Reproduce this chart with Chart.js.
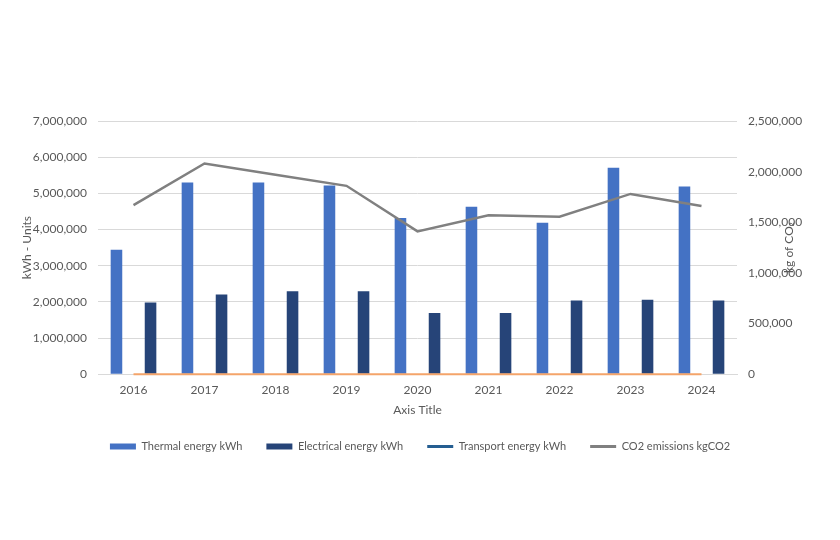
<!DOCTYPE html>
<html>
<head>
<meta charset="utf-8">
<script src="https://cdn.jsdelivr.net/npm/chart.js@4/dist/chart.umd.min.js"></script>
<style>
  html, body { margin: 0; padding: 0; background: #fff; }
  #wrap { width: 840px; height: 540px; }
</style>
</head>
<body>
<div id="wrap"><canvas id="chart" width="840" height="540"></canvas></div>
<script>
const years = ['2016', '2017', '2018', '2019', '2020', '2021', '2022', '2023', '2024'];
const thermal = [3440000, 5300000, 5300000, 5220000, 4320000, 4630000, 4190000, 5710000, 5190000];
const electrical = [1980000, 2200000, 2290000, 2290000, 1690000, 1690000, 2040000, 2060000, 2040000];
const transport = [0, 0, 0, 0, 0, 0, 0, 0, 0];
const co2 = [1670000, 2080000, 1970000, 1860000, 1410000, 1570000, 1555000, 1780000, 1660000];

const FONT = 'Lato, "Open Sans", sans-serif';
const TEXT = '#595959';
// legend swatches, by dataset index (transport shows blue in the legend but draws orange)
const legendColors = ['#4472C4', '#264478', '#255E91', '#808080'];
const legendStyles = ['rect', 'rect', 'line', 'line'];

// Excel puts the right axis title bottom-to-top, Chart.js would rotate it the other way
const rightTitle = {
    id: 'rightTitle',
    afterDraw(chart) {
        const ctx = chart.ctx;
        const area = chart.chartArea;
        ctx.save();
        ctx.translate(area.right + 52, (area.top + area.bottom) / 2);
        ctx.rotate(-Math.PI / 2);
        ctx.font = '12px ' + FONT;
        ctx.fillStyle = TEXT;
        ctx.textAlign = 'center';
        ctx.textBaseline = 'middle';
        ctx.fillText('kg of CO\u2082', 0, 0);
        ctx.restore();
    }
};

const data = {
    labels: years,
    datasets: [
        {
            type: 'bar',
            label: 'Thermal energy kWh',
            data: thermal,
            backgroundColor: '#4472C4',
            yAxisID: 'y',
            order: 2,
            categoryPercentage: 0.96,
            barPercentage: 0.34
        },
        {
            type: 'bar',
            label: 'Electrical energy kWh',
            data: electrical,
            backgroundColor: '#264478',
            yAxisID: 'y',
            order: 2,
            categoryPercentage: 0.96,
            barPercentage: 0.34
        },
        {
            type: 'line',
            label: 'Transport energy kWh',
            data: transport,
            borderColor: '#F4A46A',
            borderWidth: 2,
            pointRadius: 0,
            clip: 4,
            yAxisID: 'y',
            order: 1
        },
        {
            type: 'line',
            label: 'CO2 emissions kgCO2',
            data: co2,
            borderColor: '#808080',
            borderWidth: 2.5,
            pointRadius: 0,
            tension: 0,
            yAxisID: 'y1',
            order: 0
        }
    ]
};

const config = {
    data,
    options: {
        responsive: false,
        animation: false,
        layout: { padding: { top: 121, left: 0, right: 0, bottom: 78 } },
        plugins: {
            tooltip: { enabled: false },
            legend: {
                position: 'bottom',
                labels: {
                    usePointStyle: true,
                    pointStyleWidth: 26,
                    boxHeight: 6,
                    padding: 24,
                    color: TEXT,
                    font: { family: FONT, size: 11 },
                    sort: (a, b) => a.datasetIndex - b.datasetIndex,
                    generateLabels: chart => {
                        const items = Chart.defaults.plugins.legend.labels.generateLabels(chart);
                        items.forEach(it => {
                            const i = it.datasetIndex;
                            it.fillStyle = legendColors[i];
                            it.strokeStyle = legendColors[i];
                            it.pointStyle = legendStyles[i];
                            it.lineWidth = legendStyles[i] === 'line' ? 3 : 0;
                        });
                        return items;
                    }
                }
            }
        },
        scales: {
            x: {
                grid: { display: false, drawTicks: false },
                border: { color: '#D9D9D9', width: 1 },
                ticks: { color: TEXT, font: { family: FONT, size: 12 }, padding: 9 },
                title: { display: true, text: 'Axis Title', color: TEXT, font: { family: FONT, size: 12 }, padding: { top: -4, bottom: 0 } }
            },
            y: {
                position: 'left',
                min: 0,
                max: 7000000,
                afterFit: s => { s.width = 98; },
                grid: { color: '#D9D9D9', drawTicks: false },
                border: { display: false },
                ticks: {
                    stepSize: 1000000,
                    padding: 11,
                    color: TEXT,
                    font: { family: FONT, size: 12 },
                    callback: v => v.toLocaleString('en-US')
                },
                title: { display: true, text: 'kWh - Units', color: TEXT, font: { family: FONT, size: 12 }, padding: { top: 20, bottom: 0 } }
            },
            y1: {
                position: 'right',
                min: 0,
                max: 2500000,
                afterFit: s => { s.width = 103; },
                grid: { display: false, drawTicks: false },
                border: { display: false },
                ticks: {
                    stepSize: 500000,
                    padding: 11,
                    color: TEXT,
                    font: { family: FONT, size: 12 },
                    callback: v => v.toLocaleString('en-US')
                }
            }
        }
    },
    plugins: [rightTitle]
};

var chart = new Chart(document.getElementById('chart'), config);
</script>
</body>
</html>
